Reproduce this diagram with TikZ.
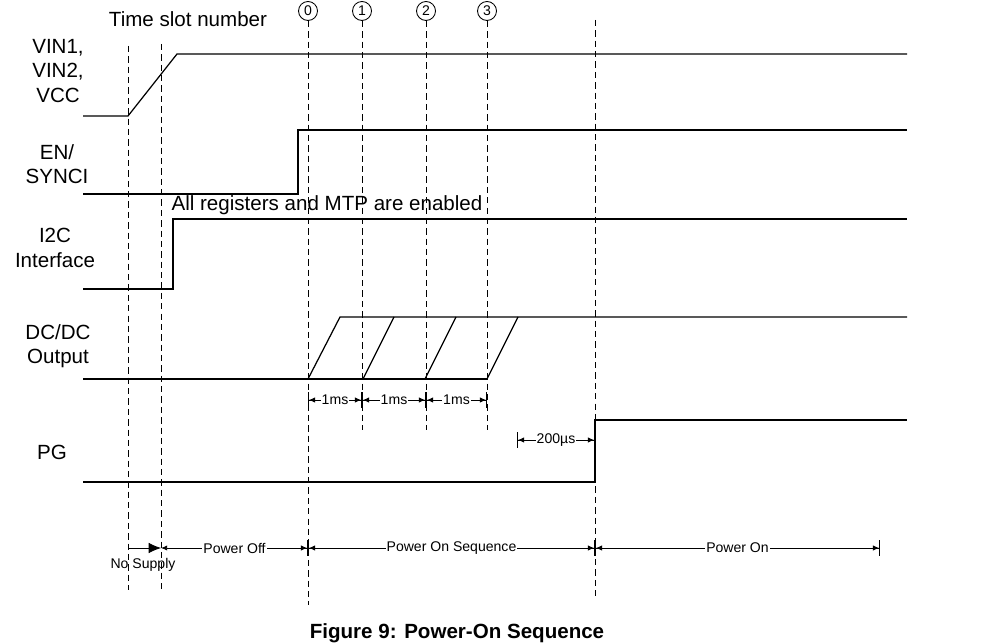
\documentclass[tikz,border=0pt]{standalone}
\usepackage{fontspec}
\setmainfont{Liberation Sans}
\usetikzlibrary{positioning,arrows.meta}

\begin{document}
\begin{tikzpicture}[
    x=0.02cm, y=-0.02cm,
    font=\fontsize{11.7}{14}\selectfont,
    sig/.style={line width=0.7pt},
    guide/.style={dash pattern=on 3.6pt off 2.3pt, line width=0.5pt},
    signame/.style={align=center},
    slot/.style={draw, circle, inner sep=0pt, minimum size=0.38cm, line width=0.5pt, font=\fontsize{8}{9}\selectfont},
    dim/.style={{Bar[width=9pt]Latex[length=3.5pt,width=3pt]}-{Latex[length=3.5pt,width=3pt]Bar[width=9pt]}, line width=0.5pt},
    tag/.style={fill=white, inner sep=0.6pt, font=\fontsize{8}{9}\selectfont}
]
\useasboundingbox (0,0) rectangle (996,644);

% signal names
\node[signame] (vin) at (58,71) {VIN1,\\VIN2,\\VCC};
\node[signame] (en) at (57,164) {EN/\\SYNCI};
\node[signame] (i2c) at (55,248) {I2C\\Interface};
\node[signame] (dcdc) at (58,346) {DC/DC\\Output};
\node[signame] (pg) at (52,452) {PG};
\node (slotlbl) at (188,19) {Time slot number};
\node (enabled) at (327,205) {All registers and MTP are enabled};

% time slots
\node[slot] (s0) at (308,11) {0};
\node[slot] (s1) at (362,11) {1};
\node[slot] (s2) at (426,11) {2};
\node[slot] (s3) at (487,11) {3};

% guide lines
\draw[guide] (128,46) -- (128,590);
\draw[guide] (161,44) -- (161,592);
\draw[guide] (s0.south) -- (308,605);
\draw[guide] (s1.south) -- (362,430);
\draw[guide] (s2.south) -- (426,430);
\draw[guide] (s3.south) -- (487,430);
\draw[guide] (595,20) -- (595,600);

% waveforms
\draw[sig] (83,116) -- (128,116) -- (177,54) -- (907,54);
\draw[sig] (83,194) -- (298,194) -- (298,130) -- (907,130);
\draw[sig] (83,289) -- (173,289) -- (173,219) -- (907,219);
\draw[sig] (83,379) -- (487,379);
\draw[sig] (308,379) -- (340,317) -- (907,317);
\draw[sig] (363,379) -- (394,317);
\draw[sig] (425,379) -- (456,317);
\draw[sig] (487,379) -- (518,317);
\draw[sig] (83,482) -- (595,482) -- (595,420) -- (907,420);

% timing
\draw[dim] (308,400) -- node[tag] {1ms} (362,400);
\draw[dim] (362,400) -- node[tag] {1ms} (426,400);
\draw[dim] (426,400) -- node[tag] {1ms} (487,400);
\draw[dim] (517,440) -- node[tag] {200µs} (595,440);

% phases
\draw[-{Latex[length=7pt,width=6pt]}, line width=0.5pt] (128,548) -- (161,548);
\node[font=\fontsize{8}{9}\selectfont] (nosup) at (143,565) {No Supply};
\draw[{Latex[length=3.5pt,width=3pt]}-{Latex[length=3.5pt,width=3pt]Bar[width=9pt]}, line width=0.5pt] (161,548) -- node[tag] {Power Off} (308,548);
\draw[dim] (308,548) -- node[tag] {Power On Sequence} (595,548);
\draw[dim] (595,548) -- node[tag] {Power On} (880,548);

\node[font=\fontsize{11.7}{14}\selectfont\bfseries] (caption) at (457,633) {Figure 9: Power-On Sequence};
\end{tikzpicture}
\end{document}
